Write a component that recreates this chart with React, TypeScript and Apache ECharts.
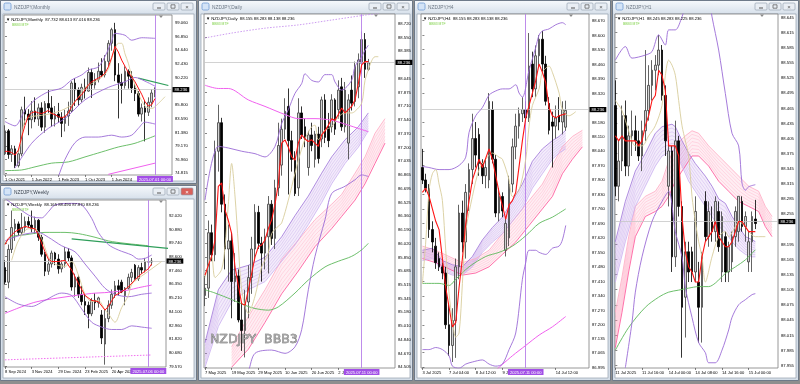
import React, { useEffect, useRef } from "react";
import * as echarts from "echarts";

// ===================== DATA =====================
// Candles: [open, high, low, close]
const monthlyOHLC = [
  [77.9,82.5,77.7,81.6],[81.6,81.9,77.1,77.8],[77.8,79.3,76.6,78.7],[78.7,79.2,75.6,76.0],
  [76.0,78.6,75.7,77.9],[77.9,85.5,77.5,85.0],[85.0,87.1,82.6,84.3],[84.3,85.1,80.9,83.4],
  [83.4,86.4,82.0,84.8],[84.8,87.0,83.0,83.5],[83.5,86.0,82.4,85.3],[85.3,86.2,81.6,82.2],
  [82.2,86.4,81.3,86.0],[86.0,88.2,84.5,85.3],[85.3,87.2,82.3,83.5],[83.5,85.6,82.3,84.3],
  [84.3,86.1,82.9,83.8],[83.8,84.6,80.6,82.8],[82.8,85.0,81.5,84.0],[84.0,86.3,82.4,84.8],
  [84.8,89.6,84.6,89.3],[89.3,90.1,85.6,88.2],[88.2,88.6,85.6,86.6],[86.6,89.2,86.2,88.6],
  [88.6,90.0,86.8,88.0],[88.0,91.8,87.9,91.0],[91.0,91.6,86.9,89.0],[89.0,90.9,88.4,89.9],
  [89.9,92.6,89.4,91.2],[91.2,93.3,90.3,90.6],[90.6,93.8,90.2,92.8],[92.8,96.2,92.0,95.7],
  [95.7,98.2,94.5,97.9],[97.9,99.0,89.6,90.6],[90.6,92.5,83.6,89.4],[89.4,90.8,86.0,88.9],
  [88.9,92.0,88.4,91.2],[91.2,91.5,88.4,90.4],[90.4,91.2,87.7,88.5],[88.5,89.1,86.4,87.6],
  [87.6,88.0,83.9,84.3],[84.3,86.0,83.1,85.3],[85.3,86.4,79.9,84.6],[84.6,87.0,84.0,86.2],
  [86.2,88.3,85.4,87.7],[87.732,88.613,87.016,88.236]
];
const weeklyOHLC = [
  [87.7,88.3,86.3,86.5],[86.5,89.6,86.0,89.2],[89.2,92.4,88.9,91.0],[90.9,91.7,89.9,91.3],
  [91.3,91.5,90.3,90.6],[90.6,92.2,90.4,91.0],[91.0,91.9,90.6,91.5],[91.5,91.9,91.0,91.2],
  [91.2,92.4,90.6,90.9],[90.9,91.9,90.5,91.6],[91.6,91.7,89.9,90.2],[90.2,90.4,88.6,88.8],
  [88.8,89.0,87.0,87.4],[87.4,88.4,87.1,88.0],[88.0,89.1,87.7,88.9],[88.9,89.0,87.9,88.4],
  [88.4,88.8,87.2,87.6],[87.6,88.3,87.3,88.0],[88.0,89.4,87.7,89.0],[89.0,89.3,88.2,88.5],
  [88.5,88.7,85.8,86.1],[86.1,87.2,85.3,86.9],[86.9,87.1,85.2,85.5],[85.5,86.2,84.6,84.9],
  [84.9,85.5,83.8,84.6],[84.6,84.9,82.7,83.9],[83.9,85.2,83.7,85.0],[85.0,85.6,84.2,84.8],
  [84.8,85.3,84.4,85.2],[83.8,84.2,81.4,81.9],[81.4,84.3,79.7,83.5],[83.5,85.0,83.2,84.6],
  [84.6,85.9,84.3,85.5],[85.5,86.6,85.2,86.2],[86.2,86.7,85.4,85.9],[86.5,86.7,85.6,85.7],
  [85.4,86.1,84.6,86.0],[86.0,87.2,85.9,86.9],[86.9,87.6,86.5,87.3],[87.9,88.0,86.7,86.8],
  [86.8,87.9,86.6,87.7],[87.7,88.1,87.2,87.5],[87.5,88.5,87.3,88.2],[88.2,89.0,87.9,88.16],
  [88.165,88.49,87.87,88.236]
];
const dailyOHLC = [
  [85.38,85.62,85.25,85.47],[85.47,86.30,85.35,86.15],[86.15,86.25,85.80,85.88],[85.88,87.28,85.80,87.15],
  [87.15,87.72,86.90,87.50],[87.50,87.56,86.40,86.50],[86.50,86.62,85.70,85.95],[85.95,86.25,85.55,86.05],
  [86.05,86.15,85.10,85.55],[85.55,85.90,85.30,85.62],[85.62,85.70,85.05,85.08],[85.08,85.30,84.70,84.95],
  [84.95,85.45,84.62,85.30],[85.30,85.75,85.10,85.60],[85.60,86.10,85.40,85.95],[85.95,86.50,85.80,86.40],
  [86.40,86.48,85.95,86.02],[86.02,86.10,85.55,85.90],[85.90,86.20,85.70,86.10],[86.10,86.60,85.65,86.50],
  [86.50,86.55,86.00,86.08],[86.08,86.80,85.95,86.70],[86.70,87.50,86.60,87.22],[86.98,87.55,86.85,87.42],
  [87.42,87.80,87.30,87.64],[87.70,87.92,86.62,87.28],[87.28,87.40,86.90,87.05],[87.04,87.15,86.60,86.63],
  [86.70,87.80,86.60,87.62],[87.62,87.70,87.30,87.35],[87.45,87.55,87.20,87.30],[86.95,87.40,86.85,87.35],
  [87.35,87.50,87.15,87.22],[87.05,87.40,86.95,87.36],[87.36,87.45,87.00,87.06],[87.30,87.82,87.20,87.78],
  [87.78,87.85,87.25,87.32],[87.45,87.62,87.20,87.28],[87.45,87.85,87.38,87.78],[87.78,87.80,87.35,87.42],
  [87.66,88.02,87.55,87.90],[87.94,88.05,87.40,87.45],[87.45,88.00,87.38,87.90],[87.25,87.85,87.05,87.78],
  [87.90,88.08,87.65,87.74],[87.76,88.25,87.70,88.19],[87.94,88.35,87.80,88.27],[88.23,88.62,88.10,88.52],
  [88.52,88.60,88.05,88.155],[88.155,88.283,88.138,88.236]
];
const h4OHLC = [
  [87.96,88.05,87.88,87.90],[87.90,87.93,87.84,87.86],[87.86,87.88,87.62,87.66],[87.66,87.70,87.55,87.60],
  [87.58,87.62,87.47,87.50],[87.52,87.55,87.46,87.48],[87.48,87.50,87.42,87.45],[87.45,87.48,87.18,87.20],
  [87.20,87.30,87.05,87.10],[87.10,87.28,87.02,87.22],[87.22,87.52,87.04,87.48],[87.48,87.78,87.42,87.74],
  [87.74,87.80,87.55,87.60],[87.60,87.88,87.52,87.84],[87.84,87.98,87.75,87.95],[87.95,88.22,87.88,88.10],
  [88.10,88.18,87.96,88.02],[88.12,88.15,87.92,87.98],[87.98,88.00,87.88,87.92],[87.92,88.00,87.86,87.96],
  [87.90,88.32,87.86,88.28],[88.24,88.28,87.98,88.00],[88.00,88.02,87.72,87.74],[87.74,87.86,87.70,87.82],
  [87.82,87.84,87.72,87.75],[87.56,87.72,87.53,87.69],[87.62,87.92,87.58,87.88],[87.88,88.10,87.84,88.06],
  [88.06,88.22,88.00,88.16],[88.16,88.25,88.10,88.22],[88.22,88.30,88.18,88.24],[88.24,88.28,88.18,88.20],
  [88.20,88.61,88.18,88.45],[88.46,88.52,88.30,88.34],[88.34,88.55,88.30,88.50],[88.50,88.60,88.45,88.58],
  [88.58,88.62,88.42,88.46],[88.46,88.50,88.26,88.28],[88.27,88.30,88.12,88.14],[88.18,88.23,87.96,88.16],
  [88.16,88.26,88.10,88.20],[88.21,88.30,88.14,88.18],[88.18,88.28,88.12,88.24],[88.155,88.283,88.138,88.236]
];
const h1OHLC = [
  [88.47,88.52,88.29,88.31],[88.31,88.40,88.28,88.36],[88.36,88.47,88.34,88.45],[88.45,88.48,88.33,88.35],
  [88.35,88.43,88.33,88.41],[88.41,88.46,88.37,88.42],[88.42,88.45,88.38,88.40],[88.40,88.42,88.36,88.37],
  [88.37,88.44,88.34,88.42],[88.42,88.58,88.40,88.46],[88.46,88.55,88.44,88.51],[88.51,88.56,88.48,88.54],
  [88.54,88.57,88.50,88.55],[88.55,88.61,88.53,88.58],[88.58,88.59,88.48,88.49],[88.49,88.51,88.37,88.40],
  [88.31,88.40,88.27,88.38],[88.38,88.39,88.14,88.17],[88.17,88.44,88.15,88.40],[88.40,88.41,88.25,88.27],
  [88.27,88.28,87.97,88.07],[88.09,88.20,88.01,88.18],[88.18,88.20,88.12,88.14],[88.18,88.19,88.12,88.14],
  [88.14,88.29,88.12,88.26],[88.12,88.16,88.00,88.07],[88.07,88.18,88.00,88.17],[88.28,88.30,88.20,88.21],
  [88.21,88.28,88.19,88.26],[88.24,88.27,88.20,88.22],[88.22,88.29,88.20,88.28],[88.26,88.28,88.18,88.19],
  [88.14,88.26,88.12,88.25],[88.21,88.22,88.12,88.14],[88.14,88.20,88.12,88.19],[88.16,88.22,88.14,88.21],
  [88.21,88.27,88.19,88.26],[88.22,88.29,88.20,88.29],[88.28,88.29,88.22,88.23],[88.23,88.26,88.20,88.25],
  [88.16,88.22,88.14,88.20],[88.20,88.26,88.14,88.25],[88.245,88.283,88.225,88.236]
];

// Tick labels
const monthlyPriceTicks = [99.06,96.85,94.64,92.43,90.22,85.8,83.59,81.38,79.17,76.96,74.815];
const weeklyPriceTicks = [92.02,90.88,89.74,88.6,87.46,86.35,85.21,84.1,82.96,81.82,80.68,79.57];
const dailyPriceTicks = [88.72,88.55,88.385,88.045,87.875,87.71,87.54,87.37,87.2,87.035,86.865,86.695,86.525,86.36,86.19,86.02,85.85,85.685,85.515,85.345,85.18,85.01,84.84,84.67,84.505];
const h4PriceTicks = [88.67,88.6,88.53,88.46,88.39,88.32,88.18,88.11,88.04,87.97,87.9,87.83,87.76,87.69,87.62,87.55,87.48,87.41,87.34,87.27,87.2,87.135,87.065,86.995];
const h1PriceTicks = [88.645,88.615,88.585,88.555,88.525,88.495,88.465,88.435,88.405,88.375,88.345,88.315,88.285,88.255,88.195,88.165,88.135,88.105,88.075,88.045,88.015,87.985,87.955];

const monthlyTimeIdx = [0,8,16,24,32];
const monthlyTimeText = ["1 Oct 2021","1 Jun 2022","1 Feb 2023","1 Oct 2023","1 Jun 2024"];
const weeklyTimeIdx = [0,8,16,24,32];
const weeklyTimeText = ["8 Sep 2024","3 Nov 2024","29 Dec 2024","23 Feb 2025","20 Apr 2025"];
const dailyTimeIdx = [0,8,16,24,32,40];
const dailyTimeText = ["7 May 2025","19 May 2025","29 May 2025","10 Jun 2025","20 Jun 2025","2 Jul"];
const h4TimeIdx = [0,8,16,24,40];
const h4TimeText = ["3 Jul 2025","7 Jul 04:00","8 Jul 12:00","9 Jul","14 Jul 12:00"];
const h1TimeIdx = [0,8,16,24,32,40];
const h1TimeText = ["11 Jul 2025","11 Jul 16:00","14 Jul 00:00","14 Jul 08:00","14 Jul 16:00","15 Jul 00:00"];

const currentPrice = 88.236;

// Indicator lines: [bar, price]
const mRed = [[0,78.3],[1,78.3],[2,78.1],[3,77.7],[4,78.5],[5,80.6],[6,82.5],[7,84.0],[8,84.5],[9,84.7],[10,84.5],[11,84.4],[12,84.6],[13,84.9],[14,84.4],[15,84.2],[16,83.9],[17,83.7],[18,83.9],[19,84.5],[20,85.5],[21,86.3],[22,87.0],[23,87.4],[24,88.2],[25,89.0],[26,89.5],[27,89.8],[28,90.1],[29,90.4],[30,90.9],[31,91.9],[32,93.4],[33,95.2],[34,94.3],[35,93.0],[36,92.0],[37,91.0],[38,90.3],[39,89.5],[40,88.5],[41,87.5],[42,86.3],[43,85.6],[44,85.8],[45,86.8]];
const mTan = [[4,78.0],[5,80.5],[6,83.3],[8,83.9],[11,84.1],[14,84.4],[17,84.9],[20,85.8],[22,87.0],[24,88.6],[26,89.2],[29,90.2],[31,91.5],[32,93.3],[33,94.8],[34,95.7],[35,95.7],[36,94.0],[37,92.5],[38,90.5],[40,87.6],[42,85.6],[44,85.2],[46,86.0],[48,87.1]];
const mBBUp = [[0,83.1],[3,82.4],[6,84.9],[9,86.6],[13,87.9],[17,88.5],[20,89.8],[23,90.6],[25,91.4],[28,91.9],[30,93.6],[32,96.0],[33,97.3],[36,97.0],[38,96.2],[41,96.6],[45,96.5]];
const mBBMid = [[3,75.6],[8,79.6],[13,82.0],[18,83.6],[24,86.6],[31,88.6],[36,89.5],[39,90.2],[42,89.6],[45,88.8]];
const mBBLow = [[16,74.2],[18,77.0],[21,79.7],[24,80.6],[28,80.6],[32,80.9],[35,80.6],[38,80.9],[40,82.0],[42,83.0],[45,82.7]];
const mGreen = [[0,75.2],[5,75.3],[9,75.8],[14,76.4],[19,76.6],[24,77.4],[29,78.2],[34,79.0],[39,79.6],[45,80.8]];
const mGreenTrend = [[40,90.1],[49,88.9]];
const mPink = [[31,74.6],[45,76.4]];

const wRed = [[0,89.6],[1,90.1],[3,90.66],[6,91.1],[8,90.95],[9,90.9],[10,90.4],[12,89.0],[13,88.4],[14,88.2],[16,88.2],[18,88.3],[20,87.5],[22,86.4],[24,85.4],[26,85.0],[28,84.9],[30,84.2],[31,84.5],[33,85.4],[35,85.7],[37,86.1],[39,86.7],[41,87.2],[43,87.6],[44,88.0]];
const wTan = [[2,88.3],[4,89.9],[7,90.9],[9,90.9],[11,90.1],[13,88.6],[15,88.0],[18,87.8],[20,88.2],[22,87.1],[24,85.5],[26,84.9],[28,85.0],[30,84.2],[31,83.9],[33,83.2],[35,84.4],[37,85.4],[38,86.3],[40,86.8],[42,87.2],[44,87.6],[46,88.0],[47,88.2]];
const wBBUp = [[0,93.4],[4,92.6],[8,91.9],[11,91.8],[13,92.3],[15,92.86],[20,92.99],[23,92.86],[26,91.76],[28,90.6],[31,89.6],[34,89.15],[38,88.74],[40,88.4],[42,88.46],[44,88.74]];
const wBBMid = [[0,89.9],[5,90.4],[10,90.6],[13,90.2],[17,89.5],[21,89.0],[24,88.0],[27,87.0],[30,86.0],[33,85.5],[37,85.3],[41,85.5],[44,85.6]];
const wBBLow = [[0,85.3],[4,84.7],[8,84.5],[12,85.0],[17,85.6],[20,85.4],[23,84.3],[26,83.2],[29,82.8],[32,82.6],[35,82.6],[38,82.9],[41,82.8],[44,82.7]];
const wGreen = [[0,89.7],[2,90.25],[6,90.4],[12,90.6],[18,90.6],[22,90.5],[27,90.2],[31,89.9],[36,89.7],[43,89.5]];
const wGreenTrend = [[20,90.06],[52,89.2]];
const wPink = [[0,83.93],[9,84.85],[18,85.28],[26,85.57],[31,85.66],[37,85.85],[40,86.04],[44,86.26]];
const wPinkDot = [[0,80.1],[44,80.5]];

const dRed = [[0,85.63],[1,85.75],[2,85.86],[3,86.06],[4,86.72],[5,86.76],[6,86.43],[7,86.3],[8,86.14],[9,85.73],[10,85.5],[11,85.28],[12,85.26],[13,85.45],[14,85.65],[15,85.85],[16,85.98],[17,86.0],[18,86.06],[19,86.2],[20,86.31],[21,86.5],[22,86.75],[23,87.25],[24,87.29],[25,87.2],[26,87.08],[27,87.04],[28,87.25],[29,87.35],[30,87.3],[31,87.27],[32,87.29],[33,87.25],[34,87.21],[35,87.35],[36,87.4],[37,87.47],[38,87.55],[39,87.53],[40,87.6],[41,87.68],[42,87.62],[43,87.66],[44,87.7],[45,87.78],[46,87.98],[47,88.21],[48,88.25],[49,88.25]];
const dTan = [[0,85.6],[2,85.86],[3,85.6],[5,85.7],[6,85.98],[7,86.5],[8,87.0],[9,86.6],[10,86.0],[11,85.45],[13,85.16],[15,85.37],[17,85.73],[19,85.9],[20,86.14],[22,86.23],[23,86.27],[25,86.55],[27,86.88],[28,87.04],[30,87.3],[32,87.45],[33,87.47],[34,87.29],[36,87.41],[38,87.45],[40,87.57],[42,87.62],[44,87.62],[45,87.64],[47,87.74],[48,88.02],[49,88.15],[50,88.26],[51,88.31],[52,88.31]];
const dBBUp = [[0,86.55],[4,87.21],[7,87.19],[11,87.15],[15,87.12],[18,87.08],[21,87.21],[23,87.49],[25,87.66],[27,87.86],[29,87.98],[30,88.1],[32,88.02],[34,88.0],[36,88.09],[38,88.09],[39,88.0],[41,87.9],[44,88.02],[45,88.19],[47,88.31],[48,88.39],[49,88.45]];
const dBBLow = [[10,84.2],[13,84.45],[15,84.67],[20,84.71],[24,84.67],[27,84.75],[29,84.96],[31,85.45],[33,85.86],[36,86.31],[38,86.63],[42,86.72],[45,86.8],[47,86.86],[49,86.84]];
const dGreen = [[0,85.45],[3,85.41],[8,85.33],[12,85.26],[15,85.22],[19,85.2],[22,85.24],[27,85.41],[31,85.57],[36,85.73],[40,85.8],[44,85.86],[47,85.94],[49,86.02]];
const dMagenta = [[0,87.96],[4,87.92],[7,87.92],[13,87.78],[18,87.7],[24,87.6],[28,87.55],[33,87.55],[38,87.53],[43,87.47],[46,87.43],[49,87.39]];
const dPurpleDot = [[0,88.54],[8,88.6],[18,88.66],[28,88.7],[38,88.76],[48,88.82],[52,88.84]];

const h4Red = [[0,87.84],[1,87.86],[2,87.82],[3,87.76],[4,87.7],[5,87.66],[7,87.38],[9,87.19],[10,87.21],[11,87.38],[12,87.52],[13,87.69],[14,87.8],[15,87.9],[17,88.0],[18,87.96],[20,88.05],[21,88.0],[23,87.84],[25,87.71],[26,87.78],[27,87.8],[28,87.84],[30,88.09],[31,88.2],[33,88.32],[34,88.38],[35,88.46],[36,88.42],[37,88.37],[38,88.25],[39,88.21],[40,88.2],[41,88.21],[43,88.22]];
const h4Tan = [[0,87.4],[1,87.6],[2,87.85],[3,87.93],[4,87.95],[5,87.88],[6,87.8],[7,87.56],[8,87.35],[9,87.22],[10,87.14],[11,87.16],[12,87.4],[13,87.65],[15,87.82],[17,87.95],[19,88.0],[21,88.03],[23,88.01],[24,88.0],[26,87.9],[27,87.82],[29,87.85],[31,88.0],[32,88.16],[33,88.26],[35,88.34],[36,88.42],[38,88.45],[39,88.42],[41,88.32],[42,88.24],[44,88.21],[46,88.23]];
const h4BBUp = [[0,87.965],[2,87.96],[5,87.95],[8,87.95],[11,87.97],[13,88.01],[14,88.13],[16,88.21],[18,88.25],[20,88.31],[22,88.33],[24,88.34],[26,88.34],[28,88.36],[29,88.32],[30,88.3],[32,88.43],[34,88.54],[35,88.6],[36,88.62],[38,88.63],[40,88.65],[42,88.66],[43,88.65]];
const h4BBLow = [[0,87.08],[2,87.08],[4,87.09],[6,87.08],[8,87.05],[9,87.0],[11,86.99],[13,87.01],[15,87.02],[18,87.03],[20,87.01],[22,87.0],[24,87.01],[26,87.08],[28,87.16],[30,87.42],[31,87.5],[32,87.56],[34,87.56],[35,87.55],[37,87.54],[39,87.57],[41,87.58],[42,87.61],[43,87.68]];
const h4Green = [[0,87.4],[5,87.4],[8,87.39],[10,87.42],[14,87.48],[19,87.53],[23,87.55],[27,87.58],[31,87.63],[35,87.69],[39,87.72],[43,87.76]];
const h4Magenta = [[22,86.98],[27,87.05],[31,87.1],[35,87.15],[39,87.19],[43,87.24]];

const h1Red = [[0,88.41],[1,88.4],[2,88.41],[3,88.4],[4,88.4],[5,88.4],[6,88.4],[7,88.39],[8,88.4],[9,88.43],[10,88.45],[11,88.48],[12,88.49],[13,88.54],[14,88.53],[15,88.5],[16,88.39],[17,88.39],[18,88.39],[19,88.37],[20,88.25],[21,88.18],[22,88.15],[23,88.14],[24,88.12],[25,88.12],[26,88.17],[27,88.2],[28,88.21],[29,88.22],[30,88.24],[31,88.21],[32,88.2],[33,88.19],[34,88.19],[35,88.2],[36,88.22],[37,88.24],[38,88.24],[39,88.23],[40,88.22],[41,88.22],[42,88.22]];
const h1Tan = [[0,88.48],[2,88.46],[4,88.42],[6,88.39],[8,88.39],[10,88.41],[12,88.43],[14,88.47],[15,88.53],[16,88.56],[17,88.55],[18,88.53],[19,88.48],[20,88.43],[21,88.4],[22,88.37],[23,88.29],[24,88.24],[25,88.2],[26,88.17],[27,88.12],[29,88.17],[31,88.21],[33,88.22],[34,88.21],[36,88.23],[37,88.24],[39,88.23],[40,88.22],[42,88.21],[44,88.21],[45,88.21]];
const h1BBUp = [[0,88.56],[3,88.587],[5,88.564],[9,88.57],[11,88.577],[13,88.61],[15,88.59],[16,88.62],[18,88.62],[20,88.646],[21,88.667],[24,88.75],[27,88.72],[29,88.646],[31,88.58],[33,88.494],[35,88.415],[37,88.39],[38,88.316],[39,88.302],[40,88.309],[42,88.313]];
const h1BBLow = [[3,87.95],[5,88.04],[6,88.1],[8,88.17],[11,88.24],[14,88.28],[16,88.3],[18,88.22],[20,88.17],[21,88.11],[23,88.05],[25,88.0],[27,87.98],[28,87.96],[30,87.96],[32,87.985],[34,88.025],[35,88.05],[37,88.075],[39,88.085],[41,88.095],[42,88.097]];
const h1Green = [[0,87.985],[4,88.03],[9,88.07],[13,88.09],[16,88.1],[19,88.104],[22,88.108],[25,88.111],[28,88.111],[30,88.118],[33,88.137],[36,88.15],[39,88.164],[42,88.184]];

// Ribbons: [bar, low edge, high edge]
const dLavRibbon = [[0,84.5,84.8],[4,85.0,85.45],[8,85.3,85.69],[13,85.45,85.75],[18,85.55,85.85],[23,85.8,86.1],[27,86.0,86.36],[31,86.25,86.6],[35,86.52,86.88],[38,86.75,87.08],[42,87.0,87.29],[46,87.2,87.45],[49,87.4,87.62]];
const dPinkRibbon = [[8,84.5,84.75],[13,84.72,85.12],[18,85.05,85.45],[23,85.4,85.82],[28,85.68,86.06],[33,85.98,86.31],[38,86.2,86.5],[41,86.35,86.62],[45,86.55,86.88],[48,86.75,87.08],[51,87.0,87.37],[54,87.25,87.55]];
const h4LavRibbon = [[0,87.51,87.56],[3,87.52,87.57],[6,87.46,87.51],[9,87.44,87.49],[12,87.44,87.48],[15,87.48,87.53],[18,87.55,87.61],[21,87.6,87.67],[24,87.64,87.72],[27,87.7,87.8],[30,87.76,87.88],[33,87.86,87.99],[36,87.93,88.05],[39,88.0,88.09],[41,88.03,88.11],[43,88.05,88.14]];
const h4PinkRibbon = [[0,87.52,87.58],[4,87.5,87.56],[8,87.47,87.53],[12,87.44,87.5],[16,87.45,87.52],[20,87.48,87.56],[24,87.54,87.64],[28,87.6,87.72],[32,87.68,87.8],[36,87.76,87.88],[39,87.82,87.97],[42,87.93,88.06],[45,88.0,88.11],[48,88.06,88.14]];
const h1LavRibbon = [[0,88.12,88.2],[3,88.2,88.28],[6,88.27,88.34],[9,88.31,88.375],[12,88.35,88.415],[14,88.37,88.428],[17,88.38,88.433],[18,88.38,88.428],[20,88.35,88.4],[22,88.32,88.375],[24,88.3,88.355],[27,88.27,88.33],[29,88.25,88.31],[31,88.23,88.285],[33,88.22,88.276],[35,88.2,88.25],[37,88.185,88.23],[39,88.175,88.21],[41,88.17,88.204],[42,88.17,88.2]];
const h1PinkRibbon = [[0,87.99,88.06],[2,88.06,88.13],[4,88.14,88.21],[6,88.21,88.27],[9,88.25,88.29],[12,88.26,88.3],[14,88.27,88.32],[16,88.29,88.36],[18,88.32,88.39],[21,88.35,88.41],[23,88.37,88.42],[25,88.37,88.415],[28,88.35,88.39],[31,88.32,88.37],[34,88.3,88.35],[37,88.28,88.33],[40,88.27,88.31],[43,88.26,88.3],[45,88.23,88.27],[47,88.21,88.25]];

// ===================== STYLE / LAYOUT =====================
const FONT = "Liberation Sans, DejaVu Sans, Arial, sans-serif";
const COL = {
  bb: "#9b6bd6", red: "#ff1414", tan: "#d8cd9c", green: "#5cb85a", greenDark: "#2f9e5a",
  magenta: "#f060ee", dot: "#c690ee", cross: "#b77fe9",
};
const LAV = { fill: "rgba(200,168,236,0.22)", hatch: "rgba(170,120,222,0.55)", edgeLo: "#c9aef0", edgeHi: "#9d72d8" };
const PINK = { fill: "rgba(255,176,200,0.22)", hatch: "rgba(255,120,160,0.5)", edgeLo: "#ff4f95", edgeHi: "#ffa8c2" };

type LineDef = { data: number[][]; color: string; width?: number; type?: any; smooth?: number };
type RibbonDef = { data: number[][]; fill: string; hatch: string; edgeLo: string; edgeHi: string };

const L = (data: number[][], color: string, width = 0.9, extra: any = {}): LineDef => ({ data, color, width, ...extra });

const panels = [
  {
    win: [0, 0, 197, 184], title: "NZDJPY,Monthly", info: "\u25BC NZDJPY,Monthly  87.732 88.613 87.016 88.236",
    grid: [4, 15, 168, 160], x: [-0.3, 50.1], y: [74.49, 100.26], candles: monthlyOHLC,
    priceTicks: monthlyPriceTicks, timeIdx: monthlyTimeIdx, timeText: monthlyTimeText,
    cross: [45, "2025.07.01 00:00"], shiftX: 161,
    lines: [L(mGreen, COL.green), L(mGreenTrend, COL.greenDark, 1.2, { smooth: 0 }), L(mPink, COL.magenta, 1, { smooth: 0 }),
      L(mBBUp, COL.bb), L(mBBMid, COL.bb), L(mBBLow, COL.bb), L(mTan, COL.tan), L(mRed, COL.red, 1, { smooth: 0 })],
    ribbons: [],
  },
  {
    win: [0, 185, 197, 196], title: "NZDJPY,Weekly", info: "\u25BC NZDJPY,Weekly  88.165 88.490 87.870 88.236", active: true,
    grid: [4, 200, 162, 167], x: [-0.3, 48.3], y: [79.51, 93.27], candles: weeklyOHLC,
    priceTicks: weeklyPriceTicks, timeIdx: weeklyTimeIdx, timeText: weeklyTimeText,
    cross: [43, "2025.07.06 00:00"], shiftX: 161,
    lines: [L(wGreen, COL.green), L(wGreenTrend, COL.greenDark, 1.2, { smooth: 0 }), L(wPink, COL.magenta, 1),
      L(wPinkDot, COL.magenta, 0.9, { smooth: 0, type: [1.5, 1.5] }),
      L(wBBUp, COL.bb), L(wBBMid, COL.bb), L(wBBLow, COL.bb), L(wTan, COL.tan), L(wRed, COL.red, 1, { smooth: 0 })],
    ribbons: [],
  },
  {
    win: [198, 0, 215, 381], title: "NZDJPY,Daily", info: "\u25BC NZDJPY,Daily  88.155 88.283 88.138 88.236",
    grid: [204, 14, 191, 354], x: [-0.3, 57.0], y: [84.49, 88.834], candles: dailyOHLC,
    priceTicks: dailyPriceTicks, timeIdx: dailyTimeIdx, timeText: dailyTimeText,
    cross: [47, "2025.07.11 00:00"], shiftX: 376,
    lines: [L(dPurpleDot, COL.dot, 0.9, { type: [1.5, 1.5] }), L(dMagenta, COL.magenta, 1), L(dGreen, COL.green),
      L(dBBUp, COL.bb), L(dBBLow, COL.bb), L(dTan, COL.tan), L(dRed, COL.red, 1.1, { smooth: 0 })],
    ribbons: [{ data: dPinkRibbon, ...PINK }, { data: dLavRibbon, ...LAV }],
  },
  {
    win: [414, 0, 197, 381], title: "NZDJPY,H4", info: "\u25BC NZDJPY,H4  88.155 88.283 88.138 88.236",
    grid: [421, 14, 168, 354], x: [-0.42, 49.98], y: [86.991, 88.702], candles: h4OHLC,
    priceTicks: h4PriceTicks, timeIdx: h4TimeIdx, timeText: h4TimeText,
    cross: [31, "2025.07.11 00:00"], shiftX: 571,
    lines: [L(h4Magenta, COL.magenta, 1), L(h4Green, COL.green),
      L(h4BBUp, COL.bb), L(h4BBLow, COL.bb), L(h4Tan, COL.tan), L(h4Red, COL.red, 1.1, { smooth: 0 })],
    ribbons: [{ data: h4PinkRibbon, ...PINK }, { data: h4LavRibbon, ...LAV }],
  },
  {
    win: [612, 0, 187, 381], title: "NZDJPY,H1", info: "\u25BC NZDJPY,H1  88.245 88.283 88.225 88.236",
    grid: [615, 14, 163, 354], x: [-0.1, 48.8], y: [87.9496, 88.6515], candles: h1OHLC,
    priceTicks: h1PriceTicks, timeIdx: h1TimeIdx, timeText: h1TimeText,
    cross: null, shiftX: 762,
    lines: [L(h1Green, COL.green), L(h1BBUp, COL.bb), L(h1BBLow, COL.bb), L(h1Tan, COL.tan), L(h1Red, COL.red, 1.1, { smooth: 0 })],
    ribbons: [{ data: h1PinkRibbon, ...PINK }, { data: h1LavRibbon, ...LAV }],
  },
];

function buildOption() {
  const grid: any[] = [], xAxis: any[] = [], yAxis: any[] = [], series: any[] = [], graphic: any[] = [];
  graphic.push({ type: "rect", shape: { x: 0, y: 0, width: 800, height: 384 }, style: { fill: "#8e8e8e" }, z: -30, silent: true });

  panels.forEach((p: any, k: number) => {
    const [wx, wy, ww, wh] = p.win;
    const [gl, gt, gw, gh] = p.grid;
    graphic.push(
      { type: "rect", shape: { x: wx + 0.5, y: wy + 0.5, width: ww - 1, height: wh - 1 }, style: { fill: "#d5dee8", stroke: "#6e7a89", lineWidth: 1 }, z: -20, silent: true },
      { type: "rect", shape: { x: wx + 1, y: wy + 1, width: ww - 2, height: 12 }, style: { fill: { type: "linear", x: 0, y: 0, x2: 0, y2: 1, colorStops: [{ offset: 0, color: "#f5f8fb" }, { offset: 1, color: "#d9e2ec" }] } }, z: -19, silent: true },
      { type: "rect", shape: { x: wx + 4, y: wy + 3, width: 7, height: 7, r: 1.5 }, style: { fill: "#d4e4f7", stroke: "#6f9bd3", lineWidth: 0.8 }, z: -18, silent: true },
      { type: "text", x: wx + 14, y: wy + 7, style: { text: p.title, fontSize: 4.8, fill: p.active ? "#38414d" : "#6b7683", fontFamily: FONT, verticalAlign: "middle" }, z: -18, silent: true },
    );
    for (let b = 0; b < 3; b++) {
      const bx = wx + ww - 44 + b * 14;
      const isClose = b === 2;
      graphic.push({ type: "rect", shape: { x: bx, y: wy + 3, width: 12, height: 7, r: 1 }, style: { fill: isClose && p.active ? "#d9605a" : "#e9eef4", stroke: "#98a4b2", lineWidth: 0.7 }, z: -18, silent: true });
      if (b === 0) graphic.push({ type: "rect", shape: { x: bx + 4, y: wy + 7.5, width: 4, height: 1 }, style: { fill: "#555" }, z: -17, silent: true });
      if (b === 1) graphic.push({ type: "rect", shape: { x: bx + 4, y: wy + 4.8, width: 4, height: 3.4 }, style: { fill: "none", stroke: "#555", lineWidth: 0.7 }, z: -17, silent: true });
      if (b === 2) graphic.push({ type: "text", x: bx + 6, y: wy + 6.6, style: { text: "\u00D7", fontSize: 6, fill: p.active ? "#fff" : "#555", align: "center", verticalAlign: "middle", fontFamily: FONT }, z: -17, silent: true });
    }
    graphic.push({ type: "rect", shape: { x: wx + 3, y: wy + 14, width: ww - 6, height: wh - 17 }, style: { fill: "#ffffff", stroke: "#9ea9b6", lineWidth: 0.8 }, z: -15, silent: true });
    graphic.push(
      { type: "text", x: gl + 2, y: gt + 4, style: { text: p.info, fontSize: 4.2, fill: "#000", fontFamily: FONT, verticalAlign: "middle" }, z: 40, silent: true },
      { type: "text", x: gl + 8, y: gt + 10, style: { text: "BBB3 MTF", fontSize: 3.4, fill: "#80d24a", fontFamily: FONT, verticalAlign: "middle" }, z: 40, silent: true },
      { type: "polygon", shape: { points: [[p.shiftX - 2, gt + 0.6], [p.shiftX + 2, gt + 0.6], [p.shiftX, gt + 3]] }, style: { fill: "#8a8a8a" }, z: 40, silent: true },
    );

    grid.push({ left: gl, top: gt, width: gw, height: gh, show: true, backgroundColor: "#ffffff", borderColor: "#7d7d7d", borderWidth: 0.8 });
    xAxis.push({
      type: "value", gridIndex: k, min: p.x[0], max: p.x[1],
      axisLine: { show: false }, splitLine: { show: false },
      axisTick: { show: true, customValues: p.timeIdx, length: 2, lineStyle: { color: "#333", width: 0.6 } },
      axisLabel: {
        show: true, customValues: p.timeIdx, fontSize: 4.1, color: "#000", fontFamily: FONT, align: "left", margin: 2,
        formatter: (v: number) => { const i = p.timeIdx.indexOf(Math.round(v)); return i >= 0 ? p.timeText[i] : ""; },
      },
    });
    yAxis.push({
      type: "value", gridIndex: k, position: "right", min: p.y[0], max: p.y[1],
      axisLine: { show: false }, splitLine: { show: false },
      axisTick: { show: true, customValues: p.priceTicks, length: 2, lineStyle: { color: "#333", width: 0.6 } },
      axisLabel: { show: true, customValues: p.priceTicks, fontSize: 4.2, color: "#000", fontFamily: FONT, margin: 3, formatter: (v: number) => v.toFixed(3) },
    });

    p.ribbons.forEach((r: RibbonDef) => {
      const rd = r.data;
      series.push({
        type: "custom", xAxisIndex: k, yAxisIndex: k, data: rd, silent: true, z: 1, clip: true,
        renderItem: (params: any, api: any) => {
          if (params.dataIndex !== 0) return null;
          const hi = rd.map((d) => api.coord([d[0], d[2]]));
          const lo = rd.map((d) => api.coord([d[0], d[1]]));
          const children: any[] = [{ type: "polygon", shape: { points: hi.concat(lo.slice().reverse()) }, style: { fill: r.fill } }];
          for (let f = 1; f < 7; f++) {
            const t = f / 7;
            children.push({ type: "polyline", shape: { points: hi.map((h: number[], i: number) => [h[0], h[1] + (lo[i][1] - h[1]) * t]) }, style: { stroke: r.hatch, lineWidth: 0.45, fill: null } });
          }
          return { type: "group", children };
        },
      });
      series.push(
        { type: "line", xAxisIndex: k, yAxisIndex: k, data: rd.map((d) => [d[0], d[1]]), symbol: "none", smooth: 0, lineStyle: { color: r.edgeLo, width: 0.8 }, z: 1, silent: true },
        { type: "line", xAxisIndex: k, yAxisIndex: k, data: rd.map((d) => [d[0], d[2]]), symbol: "none", smooth: 0, lineStyle: { color: r.edgeHi, width: 0.8 }, z: 1, silent: true },
      );
    });

    const mlData: any[] = [
      {
        yAxis: currentPrice, lineStyle: { color: "#c6c6c6", width: 0.8, type: "solid" },
        label: { show: true, position: "end", formatter: currentPrice.toFixed(3), backgroundColor: "#000", color: "#fff", fontSize: 4.2, fontFamily: FONT, padding: [0.6, 2, 0.6, 2], distance: 0.5 },
      },
    ];
    if (p.cross) {
      mlData.push({
        xAxis: p.cross[0], lineStyle: { color: COL.cross, width: 0.9, type: "solid" },
        label: { show: true, position: "start", formatter: p.cross[1], backgroundColor: "#a24fe6", color: "#fff", fontSize: 4.1, fontFamily: FONT, padding: [1, 2, 1, 2], distance: 1 },
      });
    }
    series.push({
      type: "candlestick", xAxisIndex: k, yAxisIndex: k,
      data: p.candles.map((c: number[], i: number) => [i, c[0], c[3], c[2], c[1]]),
      barWidth: 2.2, z: 3, silent: true,
      itemStyle: { color: "#d4d4d4", color0: "#000000", borderColor: "#3c3c3c", borderColor0: "#000000", borderWidth: 0.8 },
      markLine: { symbol: ["none", "none"], silent: true, animation: false, data: mlData },
    });

    p.lines.forEach((l: LineDef) => {
      series.push({
        type: "line", xAxisIndex: k, yAxisIndex: k, data: l.data, symbol: "none", showSymbol: false,
        smooth: l.smooth ?? 0.3, lineStyle: { color: l.color, width: l.width ?? 0.9, type: l.type ?? "solid" }, z: 5, silent: true,
      });
    });
  });

  graphic.push({
    type: "text", x: 210, y: 338,
    style: { text: "NZDJPY  BBB3", fontSize: 12.5, fontFamily: "DejaVu Sans, sans-serif", fill: "#a3a3a3", stroke: "#555555", lineWidth: 0.5, verticalAlign: "middle", textShadowColor: "rgba(255,255,255,0.9)", textShadowOffsetX: 1, textShadowOffsetY: 1, textShadowBlur: 0 },
    z: 45, silent: true,
  });

  return { animation: false, grid, xAxis, yAxis, series, graphic };
}

export default function App() {
  const ref = useRef<HTMLDivElement>(null);
  useEffect(() => {
    document.body.style.margin = "0";
    if (!ref.current) return;
    const chart = echarts.init(ref.current, null, { renderer: "svg", width: 800, height: 384 });
    chart.setOption(buildOption() as any);
    return () => chart.dispose();
  }, []);
  return <div ref={ref} style={{ position: "fixed", left: 0, top: 0, width: 800, height: 384 }} />;
}
